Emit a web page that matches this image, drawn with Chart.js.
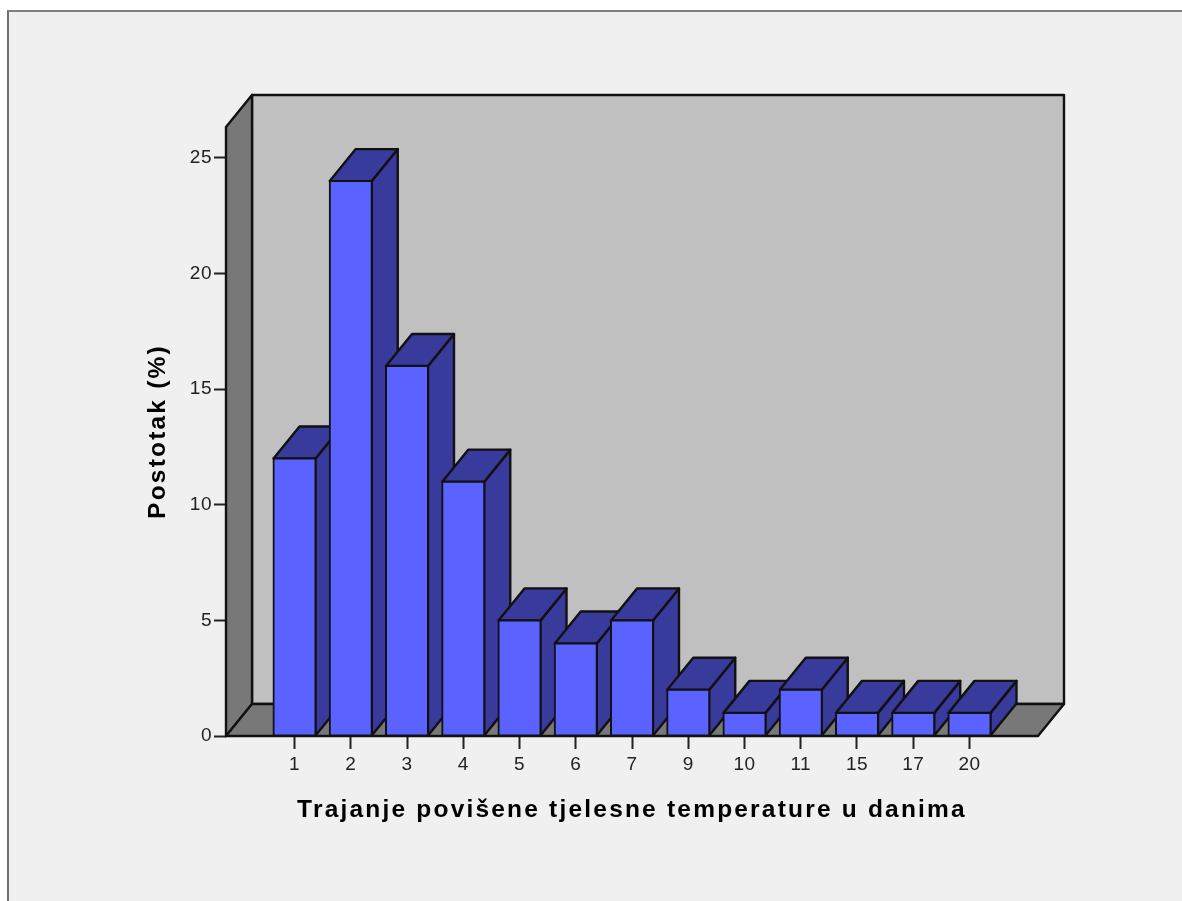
<!DOCTYPE html>
<html>
<head>
<meta charset="utf-8">
<script src="https://cdn.jsdelivr.net/npm/chart.js@4"></script>
<style>
html,body{margin:0;padding:0;background:#fff;width:1182px;height:901px;overflow:hidden}
#frame{position:absolute;left:7px;top:10px;width:1175px;height:891px;box-sizing:border-box;background:#f0f0f0;border-top:2px solid #808080;border-left:2px solid #707070}
canvas{position:absolute;left:0;top:0}
</style>
</head>
<body>
<div id="frame"></div>
<canvas id="c" width="1182" height="901"></canvas>
<script>
const categories = ['1','2','3','4','5','6','7','9','10','11','15','17','20'];
const percentages = [12,24,16,11,5,4,5,2,1,2,1,1,1];
const yTickStep = 5;
const yMax = 26.34;
const xPadCategories = 1.218;
const xTitle = 'Trajanje povišene tjelesne temperature u danima';
const yTitle = 'Postotak (%)';

const DX = 26, DY = -32;
const LINE = '#111111';

function poly(ctx, pts, fill){
  ctx.beginPath();
  pts.forEach((p,i)=> i ? ctx.lineTo(p[0],p[1]) : ctx.moveTo(p[0],p[1]));
  ctx.closePath();
  ctx.fillStyle = fill;
  ctx.fill();
  ctx.lineWidth = 2.4;
  ctx.strokeStyle = LINE;
  ctx.lineJoin = 'round';
  ctx.stroke();
}

const box3d = {
  id:'box3d',
  beforeDraw(chart){
    chart.ctx.letterSpacing = '0.5px';
    Object.values(chart.scales).forEach(s=>{
      if(s._spaced) return;
      s._spaced = true;
      const orig = s.drawTitle;
      s.drawTitle = function(){
        const c = this.ctx, prev = c.letterSpacing;
        c.letterSpacing = '2.2px';
        orig.apply(this, arguments);
        c.letterSpacing = prev;
      };
    });
  },
  beforeDatasetsDraw(chart){
    const {ctx, chartArea:a} = chart;
    ctx.save();
    poly(ctx,[[a.left+DX,a.top+DY],[a.right+DX,a.top+DY],[a.right+DX,a.bottom+DY],[a.left+DX,a.bottom+DY]],'#c0c0c0');
    poly(ctx,[[a.left,a.top],[a.left+DX,a.top+DY],[a.left+DX,a.bottom+DY],[a.left,a.bottom]],'#787878');
    poly(ctx,[[a.left,a.bottom],[a.left+DX,a.bottom+DY],[a.right+DX,a.bottom+DY],[a.right,a.bottom]],'#787878');
    chart.getDatasetMeta(0).data.forEach(bar=>{
      const p = bar.getProps(['x','y','base','width'],true);
      const l = p.x-p.width/2, r = p.x+p.width/2, t = p.y, b = p.base;
      poly(ctx,[[r,t],[r+DX,t+DY],[r+DX,b+DY],[r,b]],'#383a9c');
      poly(ctx,[[l,t],[l+DX,t+DY],[r+DX,t+DY],[r,t]],'#383a9c');
    });
    ctx.restore();
  }
};

new Chart(document.getElementById('c'),{
  type:'bar',
  data:{
    labels:categories,
    datasets:[{
      label:yTitle,
      data:percentages.map((v,i)=>({x:i,y:v})),
      backgroundColor:'#5a62ff',
      borderColor:LINE,
      borderWidth:2,
      borderSkipped:false,
      inflateAmount:1,
      barThickness:42
    }]
  },
  options:{
    responsive:false,
    animation:false,
    layout:{padding:{left:144,right:144,top:127,bottom:76}},
    plugins:{legend:{display:false},title:{display:false},tooltip:{enabled:false}},
    scales:{
      x:{
        type:'linear',
        offset:false,
        min:-xPadCategories,
        max:categories.length-1+xPadCategories,
        afterFit(s){s.height=89;},
        afterBuildTicks(s){s.ticks=categories.map((_,i)=>({value:i}));},
        grid:{display:true,offset:false,drawOnChartArea:false,drawTicks:true,tickLength:13,tickColor:'#222',tickWidth:2},
        border:{display:true,color:'#222',width:2},
        ticks:{
          autoSkip:false,maxRotation:0,padding:4,color:'#222',
          font:{family:'"Liberation Sans"',size:19},
          callback:v=>categories[v]
        },
        title:{display:true,text:xTitle,color:'#000',padding:0,
          font:{family:'"Liberation Sans"',size:24.5,weight:'bold'}}
      },
      y:{
        min:0,max:yMax,
        afterFit(s){s.width=82;},
        afterBuildTicks(s){const t=[];for(let v=0;v<=yMax;v+=yTickStep)t.push({value:v});s.ticks=t;},
        grid:{display:true,drawOnChartArea:false,drawTicks:true,tickLength:12,tickColor:'#222',tickWidth:2},
        border:{display:false},
        ticks:{padding:2,color:'#222',font:{family:'"Liberation Sans"',size:19}},
        title:{display:true,text:yTitle,color:'#000',padding:0,
          font:{family:'"Liberation Sans"',size:24.5,weight:'bold'}}
      }
    }
  },
  plugins:[box3d]
});
</script>
</body>
</html>
